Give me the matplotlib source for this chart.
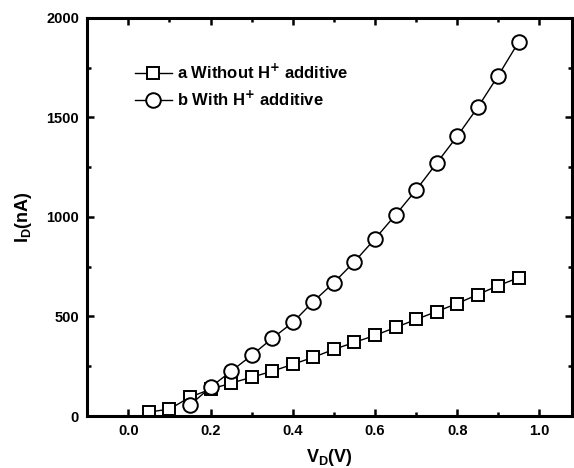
import matplotlib
matplotlib.use('Agg')
import matplotlib.pyplot as plt
from matplotlib.ticker import MultipleLocator

# Dados
vd = [0.05, 0.10, 0.15, 0.20, 0.25, 0.30, 0.35, 0.40, 0.45, 0.50,
      0.55, 0.60, 0.65, 0.70, 0.75, 0.80, 0.85, 0.90, 0.95]
id_sem = [20, 35, 95, 135, 165, 195, 225, 260, 295, 335,
          370, 405, 445, 485, 525, 565, 610, 655, 695]

vd_com = [0.15, 0.20, 0.25, 0.30, 0.35, 0.40, 0.45, 0.50, 0.55,
          0.60, 0.65, 0.70, 0.75, 0.80, 0.85, 0.90, 0.95]
id_com = [55, 145, 225, 305, 390, 470, 575, 670, 775,
          890, 1010, 1135, 1270, 1405, 1550, 1710, 1880]

plt.rcParams['font.family'] = ['Liberation Sans', 'DejaVu Sans']
plt.rcParams['font.weight'] = 'bold'

fig = plt.figure(figsize=(5.74, 4.68), dpi=100)
ax = fig.add_axes([0.152, 0.111, 0.845, 0.851])

ax.plot(vd, id_sem, color='black', lw=1, marker='s', ms=9,
        mfc='white', mec='black', mew=1.4, label='a Without H$^{+}$ additive')
ax.plot(vd_com, id_com, color='black', lw=1, marker='o', ms=10.5,
        mfc='white', mec='black', mew=1.4, label='b With H$^{+}$ additive')

ax.set_xlim(-0.1, 1.08)
ax.set_ylim(0, 2000)
ax.xaxis.set_major_locator(MultipleLocator(0.2))
ax.xaxis.set_minor_locator(MultipleLocator(0.1))
ax.yaxis.set_major_locator(MultipleLocator(500))
ax.yaxis.set_minor_locator(MultipleLocator(250))
ax.tick_params(which='both', direction='in', top=True, right=True,
               width=1.8, labelsize=10.5)
ax.tick_params(which='major', length=5, pad=6)
ax.tick_params(which='minor', length=3)
for lbl in ax.get_xticklabels() + ax.get_yticklabels():
    lbl.set_fontweight('bold')
for s in ax.spines.values():
    s.set_linewidth(2.2)

ax.set_xlabel('V$_\\mathregular{D}$(V)', fontsize=13, fontweight='bold', labelpad=6)
ax.set_ylabel('I$_\\mathregular{D}$(nA)', fontsize=13, fontweight='bold', labelpad=9)

leg = ax.legend(loc='upper left', bbox_to_anchor=(0.085, 0.905), frameon=False,
                fontsize=12, handlelength=2.2, handletextpad=0.3,
                labelspacing=0.45, borderaxespad=0)
for t in leg.get_texts():
    t.set_fontweight('bold')

fig.savefig('out.png', dpi=100, facecolor='white')
